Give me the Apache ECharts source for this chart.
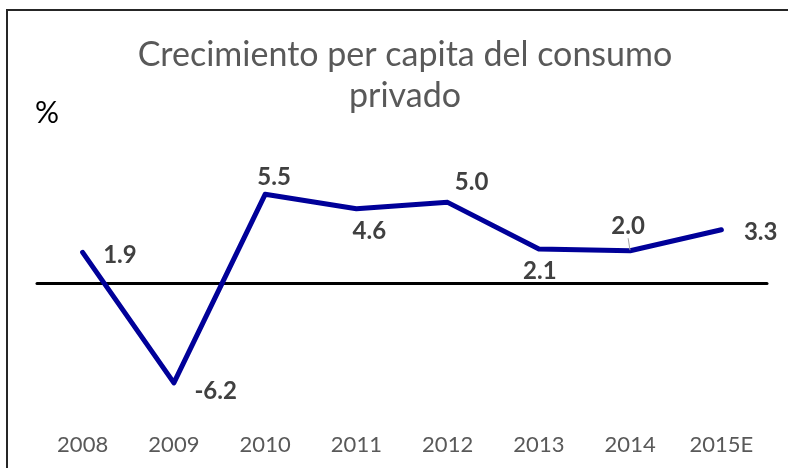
<!DOCTYPE html>
<html>
<head>
<meta charset="utf-8">
<title>Crecimiento per capita del consumo privado</title>
<script src="https://cdn.jsdelivr.net/npm/echarts@6/dist/echarts.min.js"></script>
<style>
  html, body { margin: 0; padding: 0; background: #fff; }
  #chart { width: 788px; height: 468px; }
</style>
</head>
<body>
<div id="chart"></div>
<script>
// datos
var years = ["2008", "2009", "2010", "2011", "2012", "2013", "2014", "2015E"];
var consumo = [1.9, -6.2, 5.5, 4.6, 5.0, 2.1, 2.0, 3.3];

var fontFam = "Lato, 'Open Sans', sans-serif";

// donde va cada etiqueta (como en el original)
var labelPos = ['right', 'right', 'top', 'bottom', 'top', 'bottom', 'top', 'right'];
var labelDist = [20, 20, 5, 13, 8, 10, 4, 22];
var labelMove = [[0, 3], [0, 8], [9, 0], [13, -3], [24, 0], [1, 0], [-2, -8], [0, 3]];

var serieData = [];
for (var i = 0; i < consumo.length; i++) {
    var item = {value: consumo[i], label: {position: labelPos[i], distance: labelDist[i]}};
    if (i === 6) {
        // la etiqueta 2.0 lleva linea guia
        item.labelLine = {show: true, lineStyle: {color: '#a6a6a6', width: 1}};
    }
    serieData.push(item);
}

var myChart = echarts.init(document.getElementById('chart'));
var option = {
    backgroundColor: '#fff',
    animation: false,
    title: {
        text: 'Crecimiento per capita del consumo\nprivado',
        left: 400,
        top: 30,
        textAlign: 'center',
        textStyle: {
            fontFamily: fontFam,
            fontSize: 34,
            fontWeight: 'normal',
            color: '#595959',
            lineHeight: 41
        }
    },
    graphic: [
        {
            type: 'rect',
            shape: {x: 7, y: 10, width: 820, height: 520},
            style: {fill: null, stroke: '#262626', lineWidth: 2},
            silent: true
        },
        {
            type: 'text',
            left: 35,
            top: 98,
            style: {text: '%', font: '30px ' + fontFam, fill: '#000'}
        }
    ],
    grid: {left: 37, right: 21, top: 154, bottom: 40},
    xAxis: [{
        type: 'category',
        data: years,
        boundaryGap: true,
        axisLine: {show: false, onZero: false},
        axisTick: {show: false},
        axisLabel: {
            margin: 6,
            fontFamily: fontFam,
            fontSize: 22,
            color: '#595959'
        }
    }, {
        // linea del cero
        type: 'category',
        data: years,
        position: 'bottom',
        axisLine: {show: true, onZero: true, lineStyle: {color: '#000', width: 3}},
        axisTick: {show: false},
        axisLabel: {show: false},
        z: 1
    }],
    yAxis: {
        type: 'value',
        min: -9,
        max: 8,
        show: false
    },
    series: [{
        type: 'line',
        data: serieData,
        symbol: 'circle',
        symbolSize: 1,
        itemStyle: {color: '#000099'},
        lineStyle: {color: '#000099', width: 5, cap: 'round', join: 'round'},
        label: {
            show: true,
            fontFamily: fontFam,
            fontSize: 24,
            fontWeight: 'bold',
            color: '#404040',
            formatter: function (p) { return p.value.toFixed(1); }
        },
        labelLayout: function (params) {
            var m = labelMove[params.dataIndex];
            return {dx: m[0], dy: m[1]};
        },
        z: 3
    }]
};
myChart.setOption(option);
</script>
</body>
</html>
